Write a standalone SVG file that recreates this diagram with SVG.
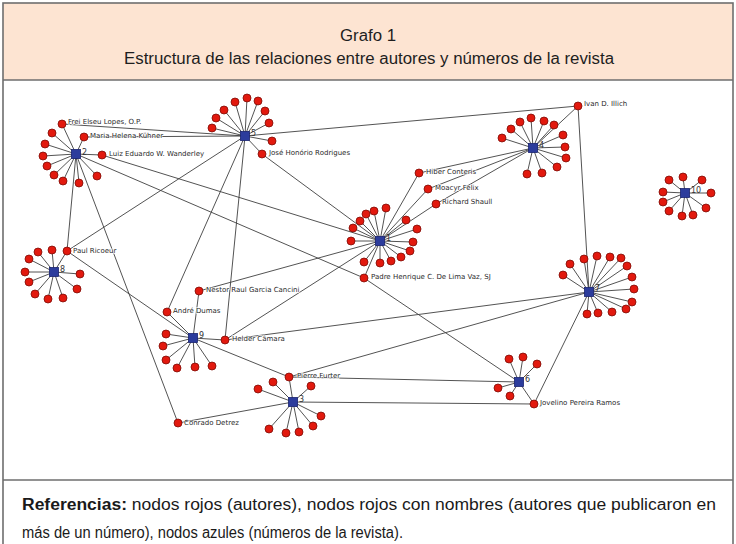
<svg xmlns="http://www.w3.org/2000/svg" width="736" height="544" viewBox="0 0 736 544">
<style>
.frame{fill:none;stroke:#6e6e6e;stroke-width:1.6}
.e line{stroke:#404040;stroke-width:0.9}
.r{fill:#e2190e;stroke:#7d0c06;stroke-width:0.8}
.b{fill:#2c3c9c;stroke:#1a2470;stroke-width:0.8}
.lb{font-family:"DejaVu Sans",sans-serif;font-size:7px;fill:#2a2a2a;stroke:#ffffff;stroke-width:1.4;stroke-opacity:0.85;paint-order:stroke}
.num{font-family:"DejaVu Sans",sans-serif;font-size:8px;fill:#333}
.hd{font-family:"Liberation Sans",sans-serif;font-size:16px;fill:#1e1e1e}
.ft{font-family:"Liberation Sans",sans-serif;font-size:16px;fill:#1a1a1a}
</style>
<rect x="0" y="0" width="736" height="544" fill="#ffffff"/>
<rect x="3" y="3" width="730" height="77" fill="#fde4d2"/>
<rect class="frame" x="3" y="3" width="730" height="560"/>
<line class="frame" x1="3" y1="80" x2="733" y2="80"/>
<line class="frame" x1="3" y1="480" x2="733" y2="480"/>
<text class="hd" x="368" y="41" text-anchor="middle" textLength="56" lengthAdjust="spacingAndGlyphs">Grafo 1</text>
<text class="hd" x="124" y="64" textLength="490" lengthAdjust="spacingAndGlyphs">Estructura de las relaciones entre autores y números de la revista</text>

<g id="connectors" class="e">
<line x1="76" y1="154" x2="52" y2="133"/><line x1="76" y1="154" x2="45" y2="144"/><line x1="76" y1="154" x2="43" y2="156"/><line x1="76" y1="154" x2="47" y2="166"/><line x1="76" y1="154" x2="54" y2="175"/><line x1="76" y1="154" x2="63" y2="181"/><line x1="76" y1="154" x2="79" y2="183"/><line x1="76" y1="154" x2="97" y2="176"/>
<line x1="76" y1="154" x2="62" y2="124"/><line x1="76" y1="154" x2="84" y2="137"/><line x1="76" y1="154" x2="102" y2="155"/>
<line x1="245" y1="136" x2="247" y2="98"/><line x1="245" y1="136" x2="235" y2="102"/><line x1="245" y1="136" x2="258" y2="101"/><line x1="245" y1="136" x2="224" y2="110"/><line x1="245" y1="136" x2="265" y2="111"/><line x1="245" y1="136" x2="216" y2="118"/><line x1="245" y1="136" x2="269" y2="123"/><line x1="245" y1="136" x2="212" y2="128"/><line x1="245" y1="136" x2="272" y2="141"/><line x1="245" y1="136" x2="262" y2="154"/>
<line x1="380" y1="241" x2="386" y2="208"/><line x1="380" y1="241" x2="374" y2="211"/><line x1="380" y1="241" x2="366" y2="214"/><line x1="380" y1="241" x2="360" y2="221"/><line x1="380" y1="241" x2="353" y2="228"/><line x1="380" y1="241" x2="351" y2="241"/><line x1="380" y1="241" x2="364" y2="262"/><line x1="380" y1="241" x2="380" y2="263"/><line x1="380" y1="241" x2="391" y2="261"/><line x1="380" y1="241" x2="401" y2="257"/><line x1="380" y1="241" x2="410" y2="251"/><line x1="380" y1="241" x2="413" y2="242"/><line x1="380" y1="241" x2="417" y2="229"/><line x1="380" y1="241" x2="406" y2="220"/>
<line x1="533" y1="148" x2="502" y2="138"/><line x1="533" y1="148" x2="511" y2="129"/><line x1="533" y1="148" x2="520" y2="122"/><line x1="533" y1="148" x2="531" y2="118"/><line x1="533" y1="148" x2="544" y2="121"/><line x1="533" y1="148" x2="554" y2="125"/><line x1="533" y1="148" x2="563" y2="135"/><line x1="533" y1="148" x2="565" y2="147"/><line x1="533" y1="148" x2="566" y2="158"/><line x1="533" y1="148" x2="557" y2="167"/><line x1="533" y1="148" x2="542" y2="173"/><line x1="533" y1="148" x2="527" y2="174"/>
<line x1="685" y1="193" x2="669" y2="180"/><line x1="685" y1="193" x2="683" y2="177"/><line x1="685" y1="193" x2="702" y2="180"/><line x1="685" y1="193" x2="663" y2="192"/><line x1="685" y1="193" x2="711" y2="193"/><line x1="685" y1="193" x2="663" y2="202"/><line x1="685" y1="193" x2="669" y2="211"/><line x1="685" y1="193" x2="682" y2="216"/><line x1="685" y1="193" x2="693" y2="215"/><line x1="685" y1="193" x2="706" y2="208"/>
<line x1="589" y1="292" x2="563" y2="275"/><line x1="589" y1="292" x2="570" y2="264"/><line x1="589" y1="292" x2="584" y2="259"/><line x1="589" y1="292" x2="597" y2="256"/><line x1="589" y1="292" x2="610" y2="257"/><line x1="589" y1="292" x2="621" y2="258"/><line x1="589" y1="292" x2="627" y2="266"/><line x1="589" y1="292" x2="632" y2="277"/><line x1="589" y1="292" x2="634" y2="289"/><line x1="589" y1="292" x2="632" y2="302"/><line x1="589" y1="292" x2="626" y2="309"/><line x1="589" y1="292" x2="612" y2="312"/><line x1="589" y1="292" x2="598" y2="313"/><line x1="589" y1="292" x2="587" y2="314"/>
<line x1="519" y1="382" x2="509" y2="359"/><line x1="519" y1="382" x2="523" y2="357"/><line x1="519" y1="382" x2="537" y2="364"/><line x1="519" y1="382" x2="498" y2="388"/><line x1="519" y1="382" x2="510" y2="396"/>
<line x1="293" y1="402" x2="273" y2="382"/><line x1="293" y1="402" x2="258" y2="389"/><line x1="293" y1="402" x2="311" y2="386"/><line x1="293" y1="402" x2="321" y2="416"/><line x1="293" y1="402" x2="313" y2="426"/><line x1="293" y1="402" x2="299" y2="432"/><line x1="293" y1="402" x2="286" y2="433"/><line x1="293" y1="402" x2="269" y2="429"/>
<line x1="193" y1="338" x2="166" y2="334"/><line x1="193" y1="338" x2="163" y2="346"/><line x1="193" y1="338" x2="166" y2="360"/><line x1="193" y1="338" x2="177" y2="368"/><line x1="193" y1="338" x2="195" y2="367"/><line x1="193" y1="338" x2="212" y2="366"/>
<line x1="54" y1="272" x2="38" y2="252"/><line x1="54" y1="272" x2="52" y2="250"/><line x1="54" y1="272" x2="29" y2="259"/><line x1="54" y1="272" x2="25" y2="272"/><line x1="54" y1="272" x2="29" y2="282"/><line x1="54" y1="272" x2="35" y2="294"/><line x1="54" y1="272" x2="48" y2="299"/><line x1="54" y1="272" x2="63" y2="298"/><line x1="54" y1="272" x2="77" y2="289"/><line x1="54" y1="272" x2="80" y2="274"/>
<line x1="62" y1="124" x2="245" y2="136"/>
<line x1="84" y1="137" x2="245" y2="136"/>
<line x1="102" y1="155" x2="380" y2="241"/>
<line x1="262" y1="154" x2="380" y2="241"/>
<line x1="578" y1="106" x2="245" y2="136"/>
<line x1="578" y1="106" x2="533" y2="148"/>
<line x1="578" y1="106" x2="589" y2="292"/>
<line x1="419" y1="173" x2="380" y2="241"/><line x1="419" y1="173" x2="533" y2="148"/>
<line x1="428" y1="189" x2="380" y2="241"/><line x1="428" y1="189" x2="533" y2="148"/>
<line x1="436" y1="204" x2="380" y2="241"/><line x1="436" y1="204" x2="533" y2="148"/>
<line x1="364" y1="278" x2="380" y2="241"/><line x1="364" y1="278" x2="76" y2="154"/><line x1="364" y1="278" x2="519" y2="382"/>
<line x1="67" y1="251" x2="54" y2="272"/><line x1="67" y1="251" x2="76" y2="154"/><line x1="67" y1="251" x2="245" y2="136"/><line x1="67" y1="251" x2="193" y2="338"/>
<line x1="199" y1="291" x2="193" y2="338"/><line x1="199" y1="291" x2="380" y2="241"/>
<line x1="167" y1="312" x2="193" y2="338"/><line x1="167" y1="312" x2="245" y2="136"/>
<line x1="225" y1="340" x2="193" y2="338"/><line x1="225" y1="340" x2="245" y2="136"/><line x1="225" y1="340" x2="380" y2="241"/><line x1="225" y1="340" x2="589" y2="292"/>
<line x1="289" y1="377" x2="293" y2="402"/><line x1="289" y1="377" x2="193" y2="338"/><line x1="289" y1="377" x2="589" y2="292"/><line x1="289" y1="377" x2="519" y2="382"/>
<line x1="534" y1="404" x2="519" y2="382"/><line x1="534" y1="404" x2="589" y2="292"/><line x1="534" y1="404" x2="293" y2="402"/>
<line x1="178" y1="423" x2="76" y2="154"/><line x1="178" y1="423" x2="293" y2="402"/>
</g>

<g id="authors-unnamed">
<g class="r">
<circle cx="52" cy="133" r="4"/><circle cx="45" cy="144" r="4"/><circle cx="43" cy="156" r="4"/><circle cx="47" cy="166" r="4"/><circle cx="54" cy="175" r="4"/><circle cx="63" cy="181" r="4"/><circle cx="79" cy="183" r="4"/><circle cx="97" cy="176" r="4"/>
<circle cx="247" cy="98" r="4"/><circle cx="235" cy="102" r="4"/><circle cx="258" cy="101" r="4"/><circle cx="224" cy="110" r="4"/><circle cx="265" cy="111" r="4"/><circle cx="216" cy="118" r="4"/><circle cx="269" cy="123" r="4"/><circle cx="212" cy="128" r="4"/><circle cx="272" cy="141" r="4"/>
<circle cx="386" cy="208" r="4"/><circle cx="374" cy="211" r="4"/><circle cx="366" cy="214" r="4"/><circle cx="360" cy="221" r="4"/><circle cx="353" cy="228" r="4"/><circle cx="351" cy="241" r="4"/><circle cx="364" cy="262" r="4"/><circle cx="380" cy="263" r="4"/><circle cx="391" cy="261" r="4"/><circle cx="401" cy="257" r="4"/><circle cx="410" cy="251" r="4"/><circle cx="413" cy="242" r="4"/><circle cx="417" cy="229" r="4"/><circle cx="406" cy="220" r="4"/>
<circle cx="502" cy="138" r="4"/><circle cx="511" cy="129" r="4"/><circle cx="520" cy="122" r="4"/><circle cx="531" cy="118" r="4"/><circle cx="544" cy="121" r="4"/><circle cx="554" cy="125" r="4"/><circle cx="563" cy="135" r="4"/><circle cx="565" cy="147" r="4"/><circle cx="566" cy="158" r="4"/><circle cx="557" cy="167" r="4"/><circle cx="542" cy="173" r="4"/><circle cx="527" cy="174" r="4"/>
<circle cx="669" cy="180" r="4"/><circle cx="683" cy="177" r="4"/><circle cx="702" cy="180" r="4"/><circle cx="663" cy="192" r="4"/><circle cx="711" cy="193" r="4"/><circle cx="663" cy="202" r="4"/><circle cx="669" cy="211" r="4"/><circle cx="682" cy="216" r="4"/><circle cx="693" cy="215" r="4"/><circle cx="706" cy="208" r="4"/>
<circle cx="563" cy="275" r="4"/><circle cx="570" cy="264" r="4"/><circle cx="584" cy="259" r="4"/><circle cx="597" cy="256" r="4"/><circle cx="610" cy="257" r="4"/><circle cx="621" cy="258" r="4"/><circle cx="627" cy="266" r="4"/><circle cx="632" cy="277" r="4"/><circle cx="634" cy="289" r="4"/><circle cx="632" cy="302" r="4"/><circle cx="626" cy="309" r="4"/><circle cx="612" cy="312" r="4"/><circle cx="598" cy="313" r="4"/><circle cx="587" cy="314" r="4"/>
<circle cx="509" cy="359" r="4"/><circle cx="523" cy="357" r="4"/><circle cx="537" cy="364" r="4"/><circle cx="498" cy="388" r="4"/><circle cx="510" cy="396" r="4"/>
<circle cx="273" cy="382" r="4"/><circle cx="258" cy="389" r="4"/><circle cx="311" cy="386" r="4"/><circle cx="321" cy="416" r="4"/><circle cx="313" cy="426" r="4"/><circle cx="299" cy="432" r="4"/><circle cx="286" cy="433" r="4"/><circle cx="269" cy="429" r="4"/>
<circle cx="166" cy="334" r="4"/><circle cx="163" cy="346" r="4"/><circle cx="166" cy="360" r="4"/><circle cx="177" cy="368" r="4"/><circle cx="195" cy="367" r="4"/><circle cx="212" cy="366" r="4"/>
<circle cx="38" cy="252" r="4"/><circle cx="52" cy="250" r="4"/><circle cx="29" cy="259" r="4"/><circle cx="25" cy="272" r="4"/><circle cx="29" cy="282" r="4"/><circle cx="35" cy="294" r="4"/><circle cx="48" cy="299" r="4"/><circle cx="63" cy="298" r="4"/><circle cx="77" cy="289" r="4"/><circle cx="80" cy="274" r="4"/>
</g>
</g>

<g id="author-frei"><circle class="r" cx="62" cy="124" r="4"/><text class="lb" x="68" y="123.5">Frei Elseu Lopes, O.P.</text></g>
<g id="author-maria"><circle class="r" cx="84" cy="137" r="4"/><text class="lb" x="90" y="137.5">Maria Helena Kühner</text></g>
<g id="author-luiz"><circle class="r" cx="102" cy="155" r="4"/><text class="lb" x="109" y="155.5">Luiz Eduardo W. Wanderley</text></g>
<g id="author-jose"><circle class="r" cx="262" cy="154" r="4"/><text class="lb" x="269" y="154.5">José Honório Rodrigues</text></g>
<g id="author-ivan"><circle class="r" cx="578" cy="106" r="4"/><text class="lb" x="584" y="106">Ivan D. Illich</text></g>
<g id="author-hiber"><circle class="r" cx="419" cy="173" r="4"/><text class="lb" x="426" y="173.5">Hiber Conteris</text></g>
<g id="author-moacyr"><circle class="r" cx="428" cy="189" r="4"/><text class="lb" x="435" y="189.5">Moacyr Felix</text></g>
<g id="author-richard"><circle class="r" cx="436" cy="204" r="4"/><text class="lb" x="442" y="203.5">Richard Shaull</text></g>
<g id="author-padre"><circle class="r" cx="364" cy="278" r="4"/><text class="lb" x="371" y="279">Padre Henrique C. De Lima Vaz, SJ</text></g>
<g id="author-paul"><circle class="r" cx="67" cy="251" r="4"/><text class="lb" x="73" y="252.5">Paul Ricoeur</text></g>
<g id="author-nestor"><circle class="r" cx="199" cy="291" r="4"/><text class="lb" x="206" y="291.5">Nestor Raul Garcia Cancini</text></g>
<g id="author-andre"><circle class="r" cx="167" cy="312" r="4"/><text class="lb" x="173" y="312.5">André Dumas</text></g>
<g id="author-helder"><circle class="r" cx="225" cy="340" r="4"/><text class="lb" x="232" y="340.5">Helder Câmara</text></g>
<g id="author-pierre"><circle class="r" cx="289" cy="377" r="4"/><text class="lb" x="297" y="377.5">Pierre Furter</text></g>
<g id="author-jovelino"><circle class="r" cx="534" cy="404" r="4"/><text class="lb" x="540" y="405">Jovelino Pereira Ramos</text></g>
<g id="author-conrado"><circle class="r" cx="178" cy="423" r="4"/><text class="lb" x="184" y="425">Conrado Detrez</text></g>

<g id="num-1"><rect class="b" x="375.5" y="236.5" width="9" height="9"/><text class="num" x="386" y="241">1</text></g>
<g id="num-2"><rect class="b" x="71.5" y="149.5" width="9" height="9"/><text class="num" x="82" y="155">2</text></g>
<g id="num-3"><rect class="b" x="288.5" y="397.5" width="9" height="9"/><text class="num" x="299" y="402">3</text></g>
<g id="num-4"><rect class="b" x="528.5" y="143.5" width="9" height="9"/><text class="num" x="539" y="148">4</text></g>
<g id="num-5"><rect class="b" x="240.5" y="131.5" width="9" height="9"/><text class="num" x="251" y="136">5</text></g>
<g id="num-6"><rect class="b" x="514.5" y="377.5" width="9" height="9"/><text class="num" x="525" y="382">6</text></g>
<g id="num-7"><rect class="b" x="584.5" y="287.5" width="9" height="9"/><text class="num" x="595" y="291">7</text></g>
<g id="num-8"><rect class="b" x="49.5" y="267.5" width="9" height="9"/><text class="num" x="60" y="272">8</text></g>
<g id="num-9"><rect class="b" x="188.5" y="333.5" width="9" height="9"/><text class="num" x="199" y="338">9</text></g>
<g id="num-10"><rect class="b" x="680.5" y="188.5" width="9" height="9"/><text class="num" x="691" y="193">10</text></g>

<text class="ft" x="22" y="510" textLength="694" lengthAdjust="spacingAndGlyphs"><tspan font-weight="bold">Referencias:</tspan> nodos rojos (autores), nodos rojos con nombres (autores que publicaron en</text>
<text class="ft" x="22" y="538" textLength="381" lengthAdjust="spacingAndGlyphs">más de un número), nodos azules (números de la revista).</text>
</svg>
